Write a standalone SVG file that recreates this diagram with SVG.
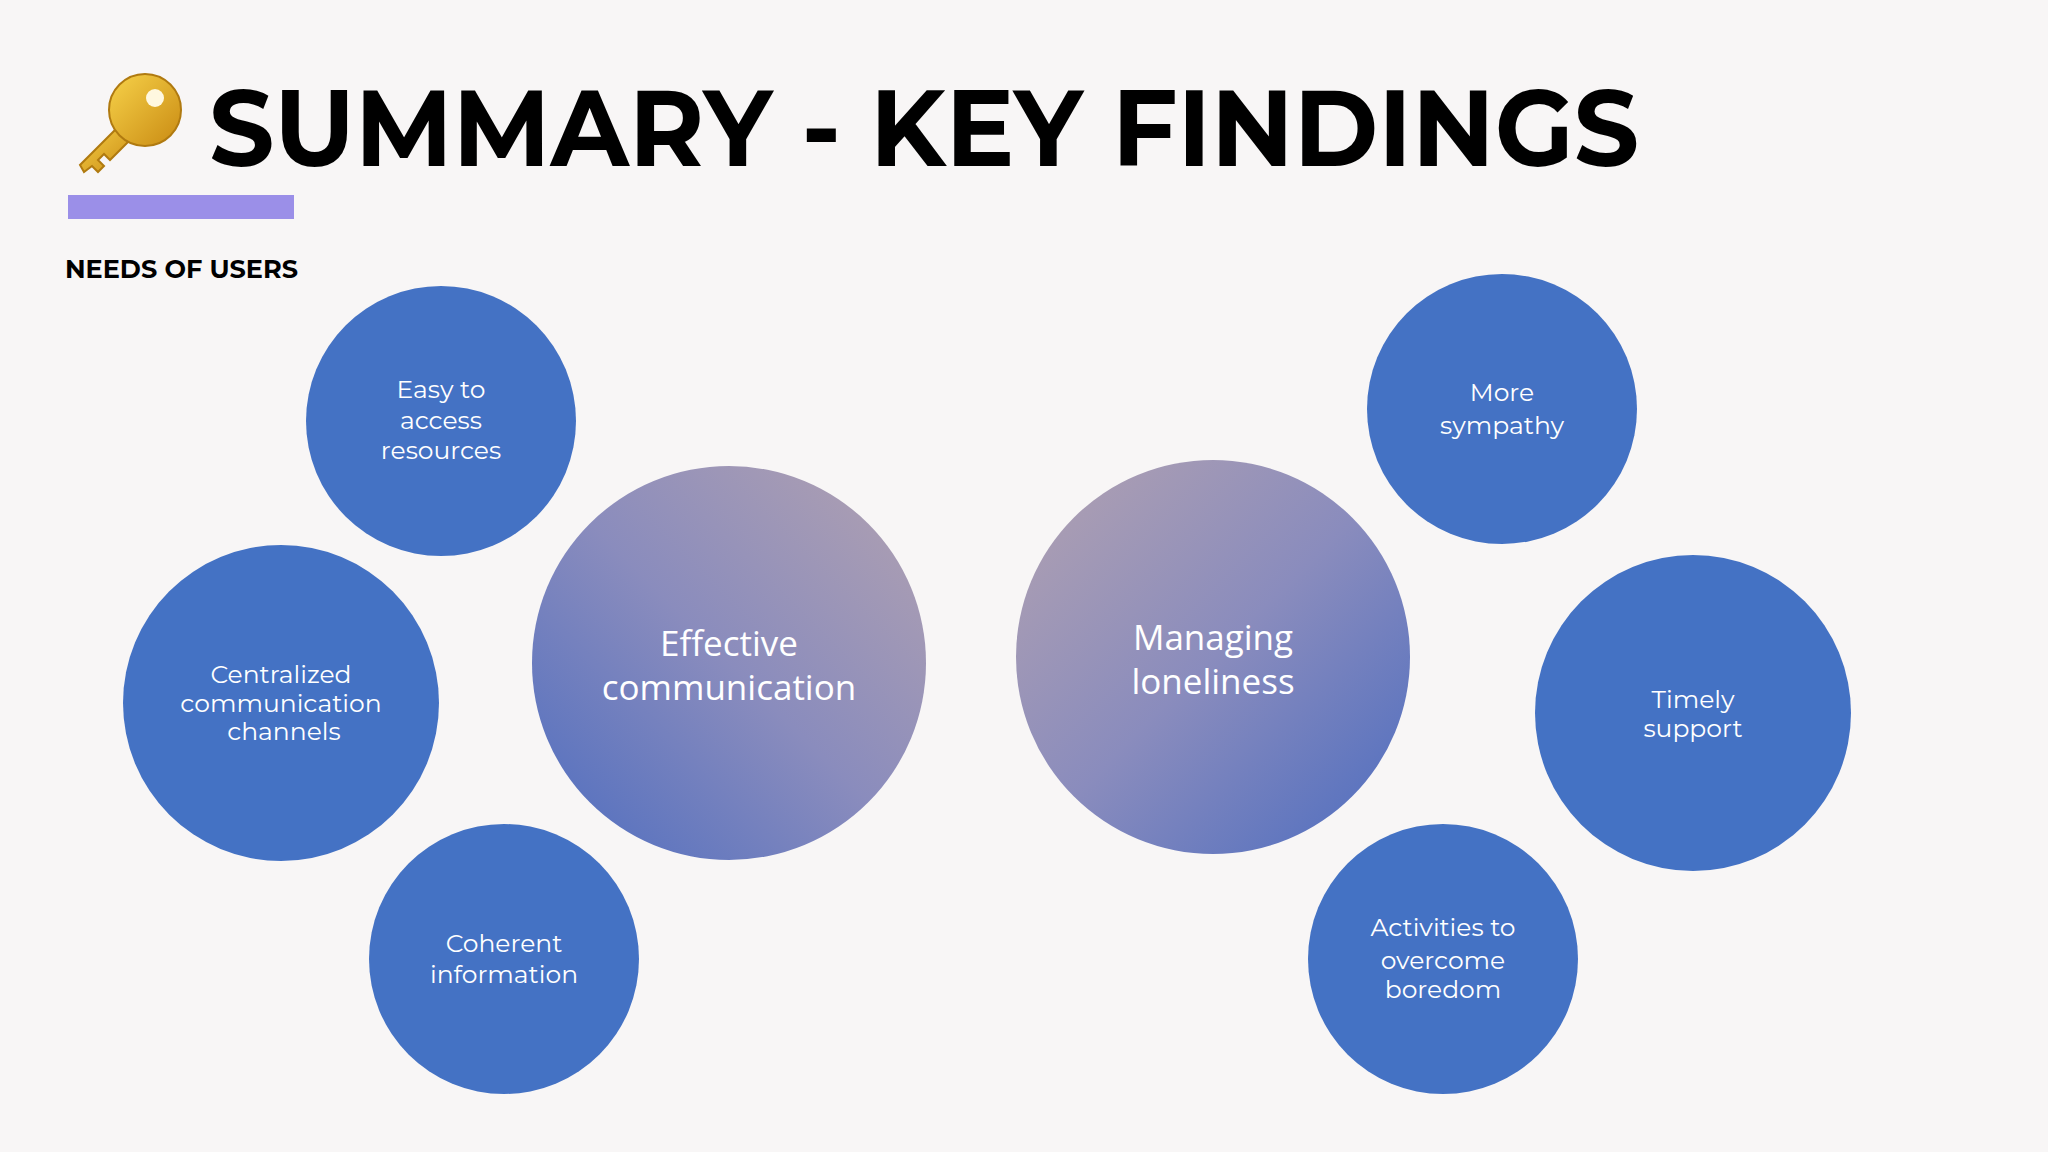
<svg xmlns="http://www.w3.org/2000/svg" width="2048" height="1152" viewBox="0 0 2048 1152">
<defs>
<linearGradient id="g1" x1="1" y1="0" x2="0" y2="1"><stop offset="0" stop-color="#b3a2b0"/><stop offset="0.5" stop-color="#8a8cbd"/><stop offset="1" stop-color="#4c6cc0"/></linearGradient>
<linearGradient id="g2" x1="0" y1="0" x2="1" y2="1"><stop offset="0" stop-color="#b3a2b0"/><stop offset="0.5" stop-color="#8a8cbd"/><stop offset="1" stop-color="#4c6cc0"/></linearGradient>
<linearGradient id="gold" x1="0" y1="0" x2="1" y2="1"><stop offset="0" stop-color="#f7d24a"/><stop offset="1" stop-color="#c98a12"/></linearGradient>
<style>
.c{fill:#4472c4}
.s{font-family:Montserrat,Lato,"Open Sans",sans-serif;font-size:25px;fill:#fff;text-anchor:middle;font-weight:400}
.b{font-family:"Open Sans",sans-serif;font-size:35px;fill:#fff;text-anchor:middle}
</style>
</defs>
<rect width="2048" height="1152" fill="#f8f6f6"/>
<g id="title">
<g id="key">
<path d="M125 120 L80 165 L84 172 L92 166 L98 172 L104 166 L98 160 L104 154 L110 160 L138 132 Z" fill="url(#gold)" stroke="#b07a10" stroke-width="2"/>
<circle cx="145" cy="110" r="36" fill="url(#gold)" stroke="#b07a10" stroke-width="2"/>
<circle cx="155" cy="98" r="9" fill="#fff8e0"/>
</g>
<text x="209" y="166" font-family="Montserrat,'Liberation Sans',sans-serif" font-weight="bold" font-size="108" textLength="1430" lengthAdjust="spacingAndGlyphs" fill="#000">SUMMARY - KEY FINDINGS</text>
<rect x="68" y="195" width="226" height="24" fill="#9b8fe8"/>
<text x="65" y="278" font-family="Montserrat,'Liberation Sans',sans-serif" font-weight="bold" font-size="25" textLength="233" lengthAdjust="spacingAndGlyphs" fill="#000">NEEDS OF USERS</text>
</g>
<g id="n1"><circle class="c" cx="441" cy="421" r="135"/><text class="s"><tspan x="441" y="398">Easy to</tspan><tspan x="441" y="429">access</tspan><tspan x="441" y="459">resources</tspan></text></g>
<g id="n2"><circle class="c" cx="281" cy="703" r="158"/><text class="s"><tspan x="281" y="683">Centralized</tspan><tspan x="281" y="712">communication</tspan><tspan x="284" y="740">channels</tspan></text></g>
<g id="n3"><circle class="c" cx="504" cy="959" r="135"/><text class="s"><tspan x="504" y="952">Coherent</tspan><tspan x="504" y="983">information</tspan></text></g>
<g id="n4"><circle fill="url(#g1)" cx="729" cy="663" r="197"/><text class="b"><tspan x="729" y="656">Effective</tspan><tspan x="729" y="700">communication</tspan></text></g>
<g id="n5"><circle fill="url(#g2)" cx="1213" cy="657" r="197"/><text class="b"><tspan x="1213" y="650">Managing</tspan><tspan x="1213" y="694">loneliness</tspan></text></g>
<g id="n6"><circle class="c" cx="1502" cy="409" r="135"/><text class="s"><tspan x="1502" y="401">More</tspan><tspan x="1502" y="434">sympathy</tspan></text></g>
<g id="n7"><circle class="c" cx="1693" cy="713" r="158"/><text class="s"><tspan x="1693" y="708">Timely</tspan><tspan x="1693" y="737">support</tspan></text></g>
<g id="n8"><circle class="c" cx="1443" cy="959" r="135"/><text class="s"><tspan x="1443" y="936">Activities to</tspan><tspan x="1443" y="969">overcome</tspan><tspan x="1443" y="998">boredom</tspan></text></g>
<g id="connectors"/>
</svg>
